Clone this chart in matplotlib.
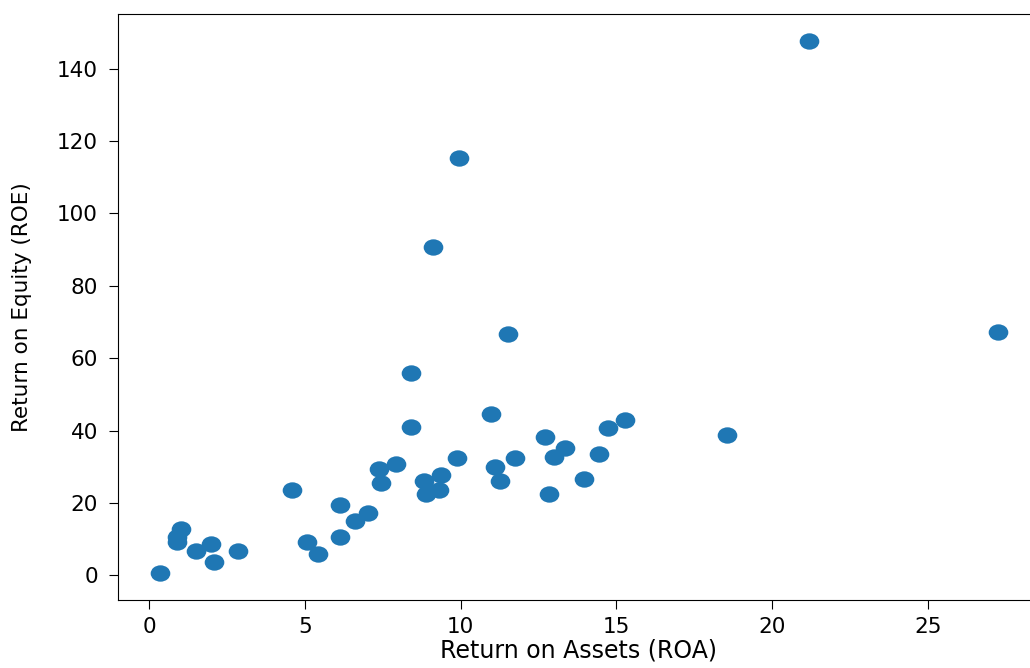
import matplotlib
matplotlib.use("Agg")
from matplotlib import pyplot as plt
from matplotlib.path import Path
from matplotlib.transforms import Affine2D

# return on assets / return on equity
roa = [0.35, 1.03, 0.9, 0.9, 1.5, 2.0, 2.1, 2.86, 4.6, 5.07,
       5.42, 6.13, 6.13, 6.6, 7.03, 7.38, 7.45, 7.93, 8.41, 8.41,
       8.83, 8.9, 9.3, 9.37, 9.11, 9.95, 9.88, 10.98, 11.1, 11.26,
       11.52, 11.75, 12.71, 12.84, 13.0, 13.35, 13.96, 14.44, 14.73, 15.28,
       18.55, 21.18, 27.25]
roe = [0.55, 12.7, 10.5, 9.1, 6.6, 8.6, 3.6, 6.6, 23.7, 9.1,
       5.8, 19.3, 10.5, 14.9, 17.1, 29.3, 25.4, 30.7, 55.8, 41.1,
       26.2, 22.4, 23.5, 27.6, 90.6, 115.2, 32.3, 44.7, 29.8, 26.2,
       66.6, 32.3, 38.1, 22.4, 32.6, 35.3, 26.5, 33.4, 40.6, 42.8,
       38.7, 147.7, 67.1]

# the source image is a bit stretched sideways, so the dots are slightly oval
oval = Path.unit_circle().transformed(Affine2D().scale(1.2, 1.0))

fig = plt.figure(figsize=(10.3, 6.68), dpi=100)
ax = fig.add_axes([118 / 1030, 1 - 600 / 668, 922 / 1030, 586 / 668])
ax.scatter(roa, roe, s=200, marker=oval, color="#1f77b4", linewidths=0)
ax.set_xlabel("Return on Assets (ROA)", fontsize=17, labelpad=1)
ax.set_ylabel("Return on Equity (ROE)", fontsize=15.5, labelpad=18)
ax.tick_params(labelsize=15.5, length=6.5, pad=6)
ax.tick_params(axis="y", pad=8)

fig.savefig("out.png", dpi=100)
